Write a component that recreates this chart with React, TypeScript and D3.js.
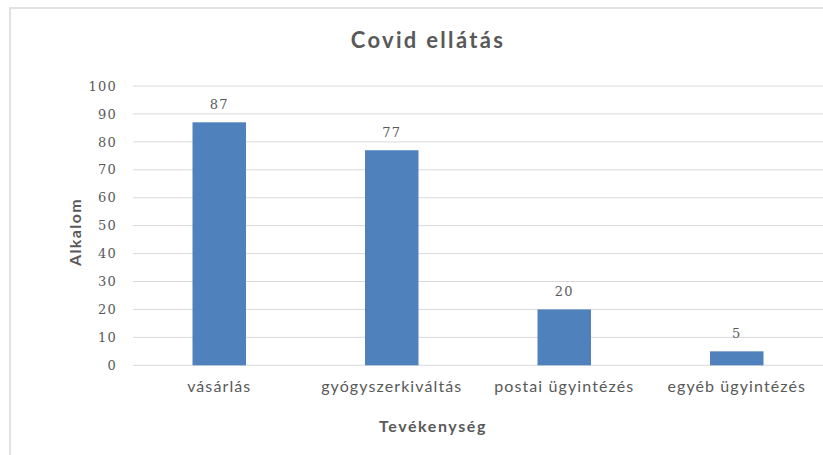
import { useEffect, useRef } from "react";
import * as d3 from "d3";

const CATEGORIES = ["vásárlás", "gyógyszerkiváltás", "postai ügyintézés", "egyéb ügyintézés"];
const VALUES = [87, 77, 20, 5];
const Y_TICKS = [0, 10, 20, 30, 40, 50, 60, 70, 80, 90, 100];

const W = 823;
const H = 455;
const SANS = "Lato, 'Open Sans', sans-serif";
const SERIF = "'DejaVu Serif', 'Liberation Serif', serif";
const TEXT = "#595959";
const BAR = "#4F81BD";
const GRID = "#d9d9d9";

export default function App() {
  const ref = useRef<SVGSVGElement>(null);

  useEffect(() => {
    if (!ref.current) return;
    const svg = d3.select(ref.current);
    svg.selectAll("*").remove();

    const mg = { l: 133, r: 0, t: 86 };

    // keret
    svg.append("rect")
      .attr("x", 10).attr("y", 8)
      .attr("width", W + 20).attr("height", H + 20)
      .attr("fill", "#fff").attr("stroke", GRID).attr("stroke-width", 1.5);

    const x = d3.scaleBand<string>()
      .domain(CATEGORIES)
      .range([mg.l, W - mg.r])
      .paddingInner(0.69)
      .paddingOuter(0.345);

    const y = d3.scaleLinear().domain([0, 100]).range([365.3, mg.t]);

    // rács
    Y_TICKS.forEach((t) => {
      svg.append("line")
        .attr("x1", mg.l).attr("x2", W)
        .attr("y1", y(t)).attr("y2", y(t))
        .attr("stroke", GRID).attr("stroke-width", 1);
    });

    // y tengely
    svg.append("g")
      .attr("transform", `translate(${mg.l},0)`)
      .call(d3.axisLeft(y).tickValues(Y_TICKS).tickSize(0).tickPadding(16))
      .call((g) => g.select(".domain").remove())
      .selectAll("text")
      .attr("fill", TEXT).attr("font-size", "13px").attr("font-family", SERIF)
      .attr("letter-spacing", "1.2px");

    // oszlopok
    svg.selectAll(".bar").data(VALUES).join("rect")
      .attr("x", (_d, i) => x(CATEGORIES[i])!)
      .attr("y", (d) => y(d))
      .attr("width", x.bandwidth())
      .attr("height", (d) => y(0) - y(d))
      .attr("fill", BAR);

    // értékcímkék
    svg.selectAll(".lbl").data(VALUES).join("text")
      .attr("x", (_d, i) => x(CATEGORIES[i])! + x.bandwidth() / 2)
      .attr("y", (d) => y(d) - 13)
      .attr("text-anchor", "middle")
      .attr("fill", TEXT).attr("font-size", "13px").attr("font-family", SERIF)
      .attr("letter-spacing", "1.2px")
      .text((d) => d);

    // kategóriák
    svg.selectAll(".cat").data(CATEGORIES).join("text")
      .attr("x", (d) => x(d)! + x.bandwidth() / 2)
      .attr("y", 392)
      .attr("text-anchor", "middle")
      .attr("fill", TEXT).attr("font-size", "16px").attr("font-family", SANS)
      .attr("letter-spacing", "1.1px")
      .text((d) => d);

    // címek
    svg.append("text")
      .attr("x", 428).attr("y", 48)
      .attr("text-anchor", "middle")
      .attr("fill", TEXT).attr("font-size", "22px").attr("font-weight", "bold")
      .attr("font-family", SANS).attr("letter-spacing", "2.3px")
      .text("Covid ellátás");

    svg.append("text")
      .attr("x", 433).attr("y", 432)
      .attr("text-anchor", "middle")
      .attr("fill", TEXT).attr("font-size", "16px").attr("font-weight", "bold")
      .attr("font-family", SANS).attr("letter-spacing", "1.6px")
      .text("Tevékenység");

    svg.append("text")
      .attr("transform", `translate(81,232) rotate(-90)`)
      .attr("text-anchor", "middle")
      .attr("fill", TEXT).attr("font-size", "16px").attr("font-weight", "bold")
      .attr("font-family", SANS).attr("letter-spacing", "1.4px")
      .text("Alkalom");
  }, []);

  return (
    <div style={{ position: "fixed", left: 0, top: 0, width: W, height: H, background: "#fff" }}>
      <svg ref={ref} width={W} height={H} style={{ display: "block" }} />
    </div>
  );
}
